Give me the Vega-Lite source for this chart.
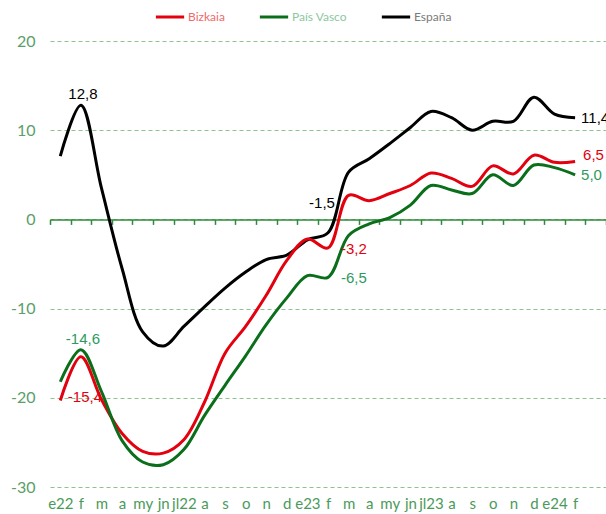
{
  "$schema": "https://vega.github.io/schema/vega-lite/v6.json",
  "width": 556,
  "height": 446,
  "autosize": {"type": "none"},
  "padding": {"left": 50, "top": 41, "right": 0, "bottom": 27},
  "background": "white",
  "config": {
    "view": {"stroke": null},
    "font": "Lato"
  },
  "data": {"values": [
    {"mes": "e22", "serie": "España", "valor": 7.1},
    {"mes": "f22", "serie": "España", "valor": 12.8},
    {"mes": "m22", "serie": "España", "valor": 3.5},
    {"mes": "a22", "serie": "España", "valor": -5.5},
    {"mes": "my22", "serie": "España", "valor": -12.6},
    {"mes": "jn22", "serie": "España", "valor": -14.2},
    {"mes": "jl22", "serie": "España", "valor": -12.0},
    {"mes": "ag22", "serie": "España", "valor": -9.8},
    {"mes": "s22", "serie": "España", "valor": -7.7},
    {"mes": "o22", "serie": "España", "valor": -5.9},
    {"mes": "n22", "serie": "España", "valor": -4.5},
    {"mes": "d22", "serie": "España", "valor": -4.0},
    {"mes": "e23", "serie": "España", "valor": -2.3},
    {"mes": "f23", "serie": "España", "valor": -1.5},
    {"mes": "m23", "serie": "España", "valor": 5.3},
    {"mes": "a23", "serie": "España", "valor": 6.8},
    {"mes": "my23", "serie": "España", "valor": 8.5},
    {"mes": "jn23", "serie": "España", "valor": 10.3},
    {"mes": "jl23", "serie": "España", "valor": 12.1},
    {"mes": "ag23", "serie": "España", "valor": 11.4},
    {"mes": "s23", "serie": "España", "valor": 10.0},
    {"mes": "o23", "serie": "España", "valor": 11.0},
    {"mes": "n23", "serie": "España", "valor": 11.0},
    {"mes": "d23", "serie": "España", "valor": 13.7},
    {"mes": "e24", "serie": "España", "valor": 11.8},
    {"mes": "f24", "serie": "España", "valor": 11.4},
    {"mes": "e22", "serie": "Bizkaia", "valor": -20.3},
    {"mes": "f22", "serie": "Bizkaia", "valor": -15.4},
    {"mes": "m22", "serie": "Bizkaia", "valor": -20.2},
    {"mes": "a22", "serie": "Bizkaia", "valor": -24.0},
    {"mes": "my22", "serie": "Bizkaia", "valor": -26.0},
    {"mes": "jn22", "serie": "Bizkaia", "valor": -26.2},
    {"mes": "jl22", "serie": "Bizkaia", "valor": -24.7},
    {"mes": "ag22", "serie": "Bizkaia", "valor": -20.5},
    {"mes": "s22", "serie": "Bizkaia", "valor": -15.0},
    {"mes": "o22", "serie": "Bizkaia", "valor": -12.0},
    {"mes": "n22", "serie": "Bizkaia", "valor": -8.5},
    {"mes": "d22", "serie": "Bizkaia", "valor": -4.6},
    {"mes": "e23", "serie": "Bizkaia", "valor": -2.2},
    {"mes": "f23", "serie": "Bizkaia", "valor": -3.2},
    {"mes": "m23", "serie": "Bizkaia", "valor": 2.7},
    {"mes": "a23", "serie": "Bizkaia", "valor": 2.1},
    {"mes": "my23", "serie": "Bizkaia", "valor": 2.9},
    {"mes": "jn23", "serie": "Bizkaia", "valor": 3.8},
    {"mes": "jl23", "serie": "Bizkaia", "valor": 5.2},
    {"mes": "ag23", "serie": "Bizkaia", "valor": 4.6},
    {"mes": "s23", "serie": "Bizkaia", "valor": 3.7},
    {"mes": "o23", "serie": "Bizkaia", "valor": 6.0},
    {"mes": "n23", "serie": "Bizkaia", "valor": 5.1},
    {"mes": "d23", "serie": "Bizkaia", "valor": 7.2},
    {"mes": "e24", "serie": "Bizkaia", "valor": 6.4},
    {"mes": "f24", "serie": "Bizkaia", "valor": 6.5},
    {"mes": "e22", "serie": "País Vasco", "valor": -18.2},
    {"mes": "f22", "serie": "País Vasco", "valor": -14.6},
    {"mes": "m22", "serie": "País Vasco", "valor": -19.3},
    {"mes": "a22", "serie": "País Vasco", "valor": -24.8},
    {"mes": "my22", "serie": "País Vasco", "valor": -27.2},
    {"mes": "jn22", "serie": "País Vasco", "valor": -27.5},
    {"mes": "jl22", "serie": "País Vasco", "valor": -25.8},
    {"mes": "ag22", "serie": "País Vasco", "valor": -22.0},
    {"mes": "s22", "serie": "País Vasco", "valor": -18.6},
    {"mes": "o22", "serie": "País Vasco", "valor": -15.3},
    {"mes": "n22", "serie": "País Vasco", "valor": -11.8},
    {"mes": "d22", "serie": "País Vasco", "valor": -8.8},
    {"mes": "e23", "serie": "País Vasco", "valor": -6.3},
    {"mes": "f23", "serie": "País Vasco", "valor": -6.5},
    {"mes": "m23", "serie": "País Vasco", "valor": -1.8},
    {"mes": "a23", "serie": "País Vasco", "valor": -0.5},
    {"mes": "my23", "serie": "País Vasco", "valor": 0.2},
    {"mes": "jn23", "serie": "País Vasco", "valor": 1.6},
    {"mes": "jl23", "serie": "País Vasco", "valor": 3.8},
    {"mes": "ag23", "serie": "País Vasco", "valor": 3.3},
    {"mes": "s23", "serie": "País Vasco", "valor": 2.9},
    {"mes": "o23", "serie": "País Vasco", "valor": 5.0},
    {"mes": "n23", "serie": "País Vasco", "valor": 3.8},
    {"mes": "d23", "serie": "País Vasco", "valor": 6.1},
    {"mes": "e24", "serie": "País Vasco", "valor": 5.8},
    {"mes": "f24", "serie": "País Vasco", "valor": 5.0}
  ]},
  "transform": [
    {"calculate": "replace(replace(format(datum.valor, '.1f'), '.', ','), '−', '-')", "as": "etiqueta"}
  ],
  "encoding": {
    "x": {
      "field": "mes",
      "type": "ordinal",
      "scale": {
        "type": "band",
        "domain": ["e22","f22","m22","a22","my22","jn22","jl22","ag22","s22","o22","n22","d22","e23","f23","m23","a23","my23","jn23","jl23","ag23","s23","o23","n23","d23","e24","f24","m24"],
        "paddingInner": 0,
        "paddingOuter": 0
      },
      "axis": {
        "orient": "bottom",
        "offset": -267.6,
        "title": null,
        "grid": false,
        "domainColor": "#2e8a3a",
        "domainWidth": 1.5,
        "tickColor": "#2e8a3a",
        "tickWidth": 1.5,
        "tickSize": 5,
        "tickBand": "extent",
        "labelAngle": 0,
        "labelPadding": 272,
        "labelFontSize": 15,
        "labelFont": "Lato",
        "labelColor": "#4a9a5a",
        "labelOverlap": false,
        "labelBound": false,
        "labelExpr": "(!isString(datum.value) || datum.value == 'm24') ? '' : ((slice(datum.value,0,1) == 'e' || slice(datum.value,0,2) == 'jl') ? datum.value : replace(replace(datum.value, 'ag', 'a'), slice(datum.value, -2), ''))"
      }
    },
    "y": {
      "field": "valor",
      "type": "quantitative",
      "scale": {"domain": [-30, 20], "nice": false, "zero": false},
      "axis": {
        "title": null,
        "values": [-30, -20, -10, 0, 10, 20],
        "labelExpr": "'' + datum.value",
        "grid": true,
        "gridColor": "#8dc48d",
        "gridDash": [4, 3],
        "gridWidth": 1,
        "domain": false,
        "ticks": false,
        "labelPadding": 15,
        "labelFontSize": 16,
        "labelFont": "Lato",
        "labelColor": "#5a9e6a"
      }
    }
  },
  "layer": [
    {
      "mark": {"type": "line", "interpolate": "catmull-rom", "strokeWidth": 3},
      "encoding": {
        "color": {
          "field": "serie",
          "type": "nominal",
          "scale": {"domain": ["Bizkaia", "País Vasco", "España"], "range": ["#e3000f", "#0b6e1b", "#000000"]},
          "legend": {
            "orient": "none",
            "legendX": 104,
            "legendY": -40,
            "direction": "horizontal",
            "title": null,
            "symbolType": "stroke",
            "symbolStrokeWidth": 3,
            "symbolSize": 800,
            "labelFontSize": 12,
            "labelFont": "Lato",
            "labelOffset": 2,
            "columnPadding": 28,
            "encode": {"labels": {"update": {"fill": {"signal": "datum.value == 'Bizkaia' ? '#ee6a6e' : datum.value == 'País Vasco' ? '#8cc8a0' : '#7a7a7a'"}}}}
          }
        }
      }
    },
    {
      "transform": [{"filter": "datum.mes == 'f22' && datum.serie != 'Bizkaia'"}],
      "mark": {"type": "text", "font": "Liberation Sans", "fontSize": 15, "dx": 2, "dy": -11, "align": "center", "baseline": "middle"},
      "encoding": {
        "text": {"field": "etiqueta", "type": "nominal"},
        "fill": {"field": "serie", "type": "nominal", "scale": {"domain": ["Bizkaia", "País Vasco", "España"], "range": ["#e3000f", "#2e9a5e", "#000000"]}, "legend": null}
      }
    },
    {
      "transform": [{"filter": "datum.mes == 'f22' && datum.serie == 'Bizkaia'"}],
      "mark": {"type": "text", "font": "Liberation Sans", "fontSize": 15, "dx": 4, "dy": 40, "align": "center", "baseline": "middle"},
      "encoding": {
        "text": {"field": "etiqueta", "type": "nominal"},
        "fill": {"field": "serie", "type": "nominal", "legend": null}
      }
    },
    {
      "transform": [{"filter": "datum.mes == 'f23' && datum.serie == 'España'"}],
      "mark": {"type": "text", "font": "Liberation Sans", "fontSize": 15, "dx": -6, "dy": -30, "align": "center", "baseline": "middle"},
      "encoding": {
        "text": {"field": "etiqueta", "type": "nominal"},
        "fill": {"field": "serie", "type": "nominal", "legend": null}
      }
    },
    {
      "transform": [{"filter": "datum.mes == 'f23' && datum.serie != 'España'"}],
      "mark": {"type": "text", "font": "Liberation Sans", "fontSize": 15, "dx": 13, "dy": 1, "align": "left", "baseline": "middle"},
      "encoding": {
        "text": {"field": "etiqueta", "type": "nominal"},
        "fill": {"field": "serie", "type": "nominal", "legend": null}
      }
    },
    {
      "transform": [{"filter": "datum.mes == 'f24' && datum.serie != 'Bizkaia'"}],
      "mark": {"type": "text", "font": "Liberation Sans", "fontSize": 15, "dx": 6, "dy": 0, "align": "left", "baseline": "middle"},
      "encoding": {
        "text": {"field": "etiqueta", "type": "nominal"},
        "fill": {"field": "serie", "type": "nominal", "legend": null}
      }
    },
    {
      "transform": [{"filter": "datum.mes == 'f24' && datum.serie == 'Bizkaia'"}],
      "mark": {"type": "text", "font": "Liberation Sans", "fontSize": 15, "dx": 8, "dy": -6, "align": "left", "baseline": "middle"},
      "encoding": {
        "text": {"field": "etiqueta", "type": "nominal"},
        "fill": {"field": "serie", "type": "nominal", "legend": null}
      }
    }
  ]
}
